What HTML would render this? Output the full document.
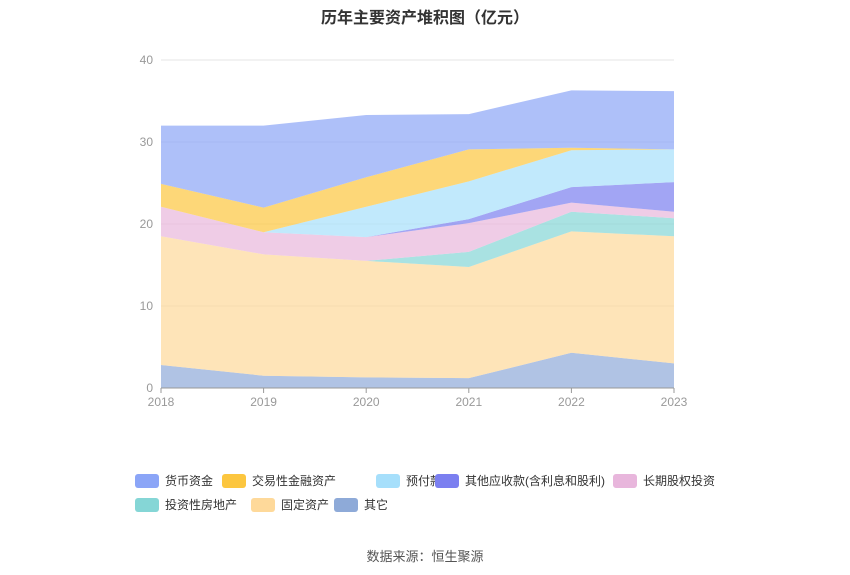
<!DOCTYPE html>
<html><head><meta charset="utf-8">
<style>
body{margin:0;background:#fff;font-family:"Liberation Sans","Noto Sans CJK SC",sans-serif;}
#wrap{position:relative;width:850px;height:575px;overflow:hidden}
.title{position:absolute;top:4px;left:0;width:850px;text-align:center;font-size:16px;font-weight:bold;color:#333}
.src{position:absolute;top:546px;left:0;width:850px;text-align:center;font-size:13px;color:#555}
</style></head><body>
<div id="wrap">
<div class="title">历年主要资产堆积图（亿元）</div>
<svg id="chart" width="850" height="575" style="position:absolute;left:0;top:0"></svg>
<div class="src">数据来源：恒生聚源</div>
</div>
<script>
const years=["2018","2019","2020","2021","2022","2023"];
const yTicks=[0,10,20,30,40];
const seriesNames=["其它","固定资产","投资性房地产","长期股权投资","其他应收款(含利息和股利)","预付款项","交易性金融资产","货币资金"];
const other=[2.8,1.5,1.3,1.2,4.3,3.0];
const fixedAssets=[15.7,14.8,14.2,13.55,14.8,15.5];
const investProperty=[0,0,0,1.85,2.4,2.2];
const longEquity=[3.6,2.7,2.9,3.5,1.1,0.8];
const otherRecv=[0,0,0,0.5,1.9,3.6];
const prepay=[0,0,3.7,4.6,4.5,4.0];
const tradingFin=[2.8,3.0,3.6,3.9,0.3,0];
const cash=[7.1,10.0,7.6,4.3,7.0,7.1];
const seriesData=[other,fixedAssets,investProperty,longEquity,otherRecv,prepay,tradingFin,cash];
const colors=["#8eaad8","#fed99a","#85d6d6","#e8b6dc","#7b7ff0","#a6dffb","#fcc63f","#8ba5f7"];
const names=["other","fixed-assets","investment-property","long-term-equity","other-receivables","prepayments","trading-financial-assets","cash"];
const svg=document.getElementById('chart');const NS="http://www.w3.org/2000/svg";
const x0=161,x1=674,yb=388,yt=60,ymax=40;
const X=i=>x0+(x1-x0)*i/(years.length-1);
const Y=v=>yb-(yb-yt)*v/ymax;
function mk(t,a){const e=document.createElementNS(NS,t);for(const k in a)e.setAttribute(k,a[k]);svg.appendChild(e);return e;}
yTicks.forEach(t=>{
 if(t>0){const g=mk('line',{x1:x0,x2:x1,y1:Y(t),y2:Y(t),stroke:'#e6e6e6'});
 
 }
 const l=mk('text',{x:153,y:Y(t)+4,'text-anchor':'end','font-size':12,fill:'#999'});l.textContent=t;
 
 
});
let base=years.map(()=>0);
seriesData.forEach((s,k)=>{
 const top=base.map((b,i)=>b+s[i]);
 let d=top.map((v,i)=>(i?'L':'M')+X(i)+','+Y(v)).join('');
 for(let i=years.length-1;i>=0;i--)d+='L'+X(i)+','+Y(base[i]);
 const p=mk('path',{d:d+'Z',fill:colors[k],'fill-opacity':0.7,stroke:'none'});
 
 
 base=top;
});
const ax=mk('line',{x1:x0,x2:x1,y1:yb,y2:yb,stroke:'#999'});


years.forEach((y,i)=>{
 const tk=mk('line',{x1:X(i),x2:X(i),y1:yb,y2:yb+5,stroke:'#999'});
 
 
 const l=mk('text',{x:X(i),y:406,'text-anchor':'middle','font-size':12,fill:'#999'});l.textContent=y;
 
 
});
const legend=[["货币资金",7,135,481],["交易性金融资产",6,222,481],["预付款项",5,376,481],["其他应收款(含利息和股利)",4,435,481],["长期股权投资",3,613,481],["投资性房地产",2,135,505],["固定资产",1,251,505],["其它",0,334,505]];
legend.forEach(([n,k,x,y])=>{
 const r=mk('rect',{x:x,y:y-7,width:24,height:14,rx:3,fill:colors[k]});
 
 
 const t=mk('text',{x:x+30,y:y+4,'font-size':12,fill:'#333'});t.textContent=n;
 
 
});
</script>
</body></html>
